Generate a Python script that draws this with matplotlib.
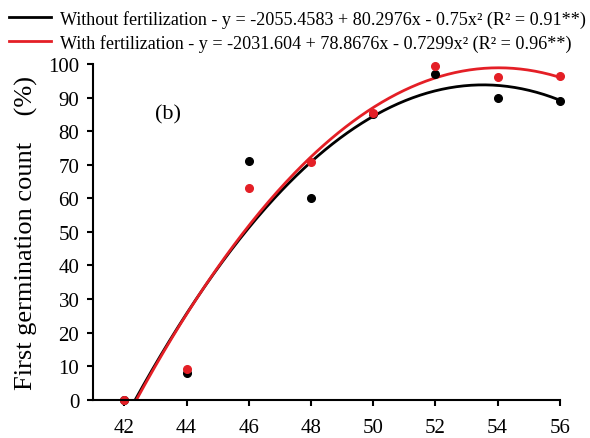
import numpy as np
import matplotlib
matplotlib.use("Agg")
import matplotlib.pyplot as plt

plt.rcParams['font.family'] = ['Liberation Serif', 'DejaVu Serif']

# datos
temp = [42, 44, 46, 48, 50, 52, 54, 56]
sin_fert = [0, 8, 71, 60, 85, 97, 90, 89]
con_fert = [0, 9.3, 63, 70.7, 85.5, 99.3, 96, 96.5]

# coeficientes de las regresiones (c0, c1, c2)
coef_sin = [-2055.4583, 80.2976, -0.75]
coef_con = [-2031.604, 78.8676, -0.7299]

lbl_sin = "Without fertilization - y = -2055.4583 + 80.2976x - 0.75x² (R² = 0.91**)"
lbl_con = "With fertilization - y = -2031.604 + 78.8676x - 0.7299x² (R² = 0.96**)"

xticks = [42, 44, 46, 48, 50, 52, 54, 56]
yticks = list(range(0, 101, 10))

negro = 'black'
rojo = '#e41f26'

fig = plt.figure(figsize=(5.9, 4.39), dpi=100)
ax = fig.add_axes([0.158, 0.087, 0.791, 0.765])

xv = np.linspace(42, 56, 300)
y1 = coef_sin[0] + coef_sin[1]*xv + coef_sin[2]*xv**2
y2 = coef_con[0] + coef_con[1]*xv + coef_con[2]*xv**2

l1, = ax.plot(xv, y1, color=negro, lw=2.0, label=lbl_sin)
l2, = ax.plot(xv, y2, color=rojo, lw=2.0, label=lbl_con)
ax.plot(temp, sin_fert, 'o', color=negro, ms=5.5, clip_on=False)
ax.plot(temp, con_fert, 'o', color=rojo, ms=5.5, clip_on=False)

ax.set_xlim(41, 56)
ax.set_ylim(0, 100)
ax.set_xticks(xticks)
ax.set_yticks(yticks)
ax.tick_params(direction='out', length=4, width=1.5, labelsize=15)
ax.tick_params(axis='y', pad=6)
ax.tick_params(axis='x', pad=9)
for s in ['top', 'right']:
    ax.spines[s].set_visible(False)
for s in ['left', 'bottom']:
    ax.spines[s].set_linewidth(1.5)

ax.set_ylabel('First germination count    (%)', fontsize=19)
ax.yaxis.set_label_coords(-0.118, 0.5)
ax.text(43.4, 85, '(b)', fontsize=16, ha='center', va='center')

fig.legend(handles=[l1, l2], loc='upper left', bbox_to_anchor=(-0.003, 1.0),
           frameon=False, fontsize=13.05, handlelength=2.3, handletextpad=0.5,
           labelspacing=0.33, borderaxespad=0.2)

fig.savefig('out.png', dpi=100)
